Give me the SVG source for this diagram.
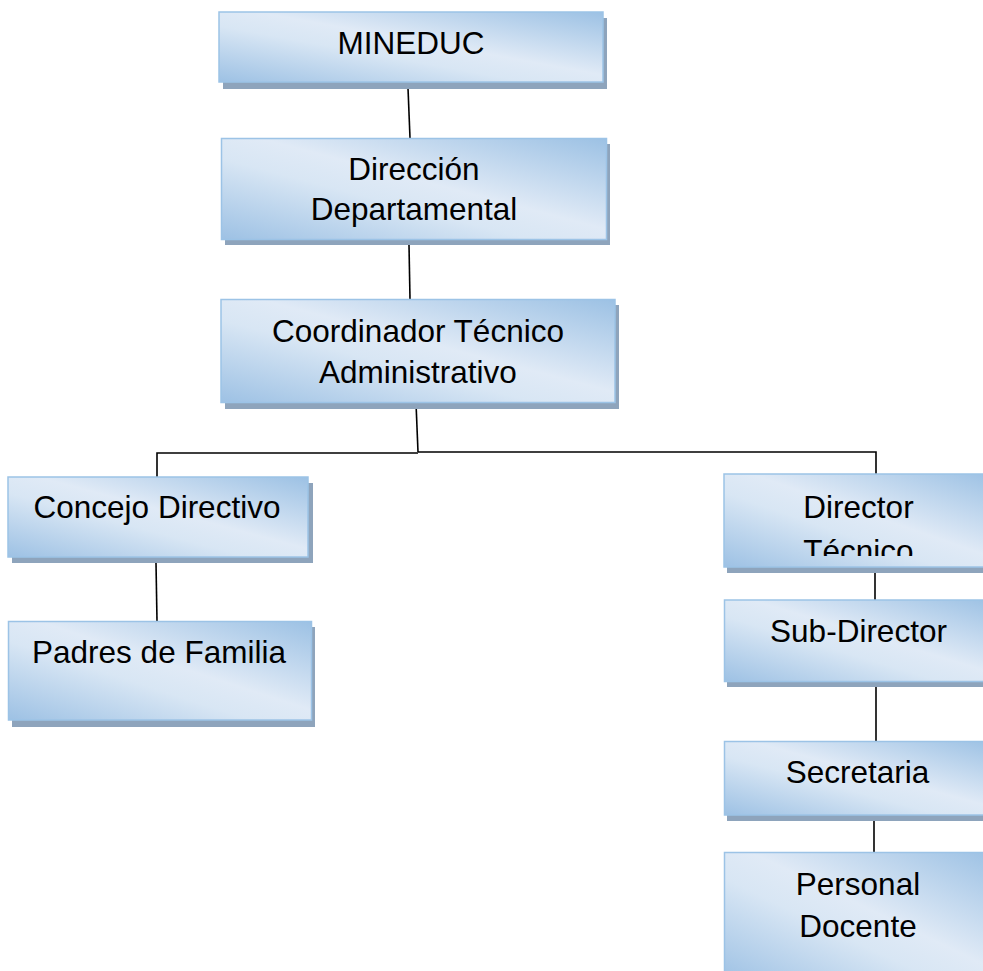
<svg xmlns="http://www.w3.org/2000/svg" width="983" height="971" viewBox="0 0 983 971">
<style>
.box{fill:url(#g);stroke:#9cc3e6;stroke-width:1.5}
.sh{fill:#8ea4bc}
.t{font-family:"Liberation Sans",Arial,sans-serif;font-size:31.5px;fill:#000;text-anchor:middle}
.c{fill:none;stroke:#000;stroke-width:1.6}
</style>
<defs>
<linearGradient id="g" x1="0" y1="1" x2="1" y2="0">
<stop offset="0" stop-color="#9dc1e4"/>
<stop offset="0.4" stop-color="#d8e6f4"/>
<stop offset="0.55" stop-color="#e0eaf6"/>
<stop offset="1" stop-color="#9cc1e4"/>
</linearGradient>
<clipPath id="clipDT"><rect x="724" y="474" width="270" height="82"/></clipPath>
</defs>
<rect width="983" height="971" fill="#fff"/>
<g id="connectors">
<path class="c" d="M408 88 L410 138"/>
<path class="c" d="M409 245 L410 299"/>
<path class="c" d="M416 403 L418 452"/>
<path class="c" d="M157 477 L157 453 L418 453"/>
<path class="c" d="M418 452 L876 452 L876 475"/>
<path class="c" d="M156 563 L157 621"/>
<path class="c" d="M875 567 L875 600"/>
<path class="c" d="M876 687 L876 742"/>
<path class="c" d="M874 815 L874 853"/>
</g>
<g id="n-mineduc">
<rect class="sh" x="223" y="18" width="384" height="71"/>
<rect class="box" x="219" y="12" width="384" height="70"/>
<text class="t" x="411" y="54">MINEDUC</text>
</g>
<g id="n-direccion">
<rect class="sh" x="225" y="144" width="385" height="101"/>
<rect class="box" x="221.5" y="138.5" width="385" height="101"/>
<text class="t" x="414" y="180">Dirección</text>
<text class="t" x="414" y="220">Departamental</text>
</g>
<g id="n-coordinador">
<rect class="sh" x="225" y="305" width="394" height="104"/>
<rect class="box" x="221" y="299.5" width="394" height="103"/>
<text class="t" x="418" y="341.5">Coordinador Técnico</text>
<text class="t" x="418" y="382.5">Administrativo</text>
</g>
<g id="n-concejo">
<rect class="sh" x="12" y="483" width="301" height="80"/>
<rect class="box" x="8" y="477" width="300" height="80"/>
<text class="t" x="157" y="517.5">Concejo Directivo</text>
</g>
<g id="n-padres">
<rect class="sh" x="12" y="627" width="303" height="100"/>
<rect class="box" x="8.5" y="621.5" width="303" height="98.5"/>
<text class="t" x="159" y="662.5">Padres de Familia</text>
</g>
<g id="n-director">
<rect class="sh" x="727" y="480" width="270" height="93"/>
<rect class="box" x="724" y="474" width="270" height="93"/>
<g clip-path="url(#clipDT)">
<text class="t" x="858.5" y="517.5">Director</text>
<text class="t" x="858.5" y="562">Técnico</text>
</g>
</g>
<g id="n-subdirector">
<rect class="sh" x="727" y="606" width="270" height="81"/>
<rect class="box" x="724.5" y="600" width="270" height="81.5"/>
<text class="t" x="858.5" y="641.5">Sub-Director</text>
</g>
<g id="n-secretaria">
<rect class="sh" x="727" y="747" width="270" height="74"/>
<rect class="box" x="724.5" y="741.5" width="270" height="73.5"/>
<text class="t" x="857.5" y="782.5">Secretaria</text>
</g>
<g id="n-personal">
<rect class="sh" x="727" y="859" width="270" height="130"/>
<rect class="box" x="724.5" y="852.5" width="270" height="130"/>
<text class="t" x="858" y="895">Personal</text>
<text class="t" x="858" y="936.5">Docente</text>
</g>
</svg>
